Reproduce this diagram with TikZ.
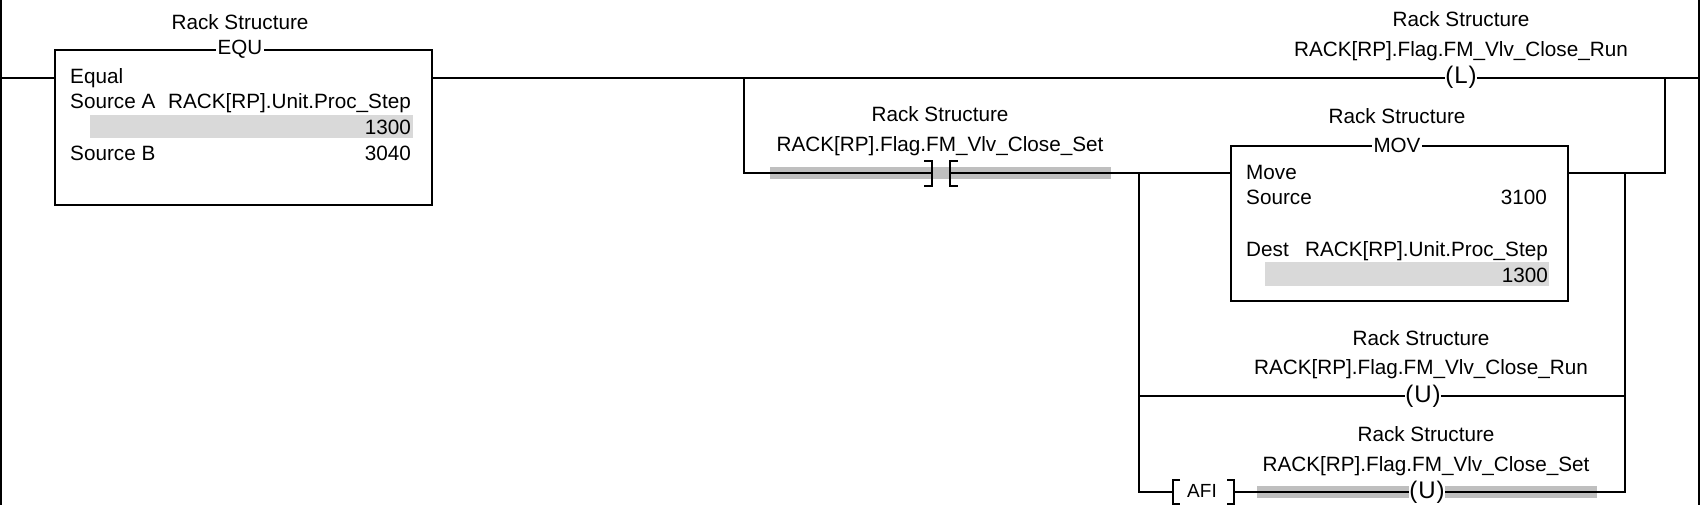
\documentclass[tikz,border=0pt]{standalone}
\usepackage{fontspec}
\setmainfont{Liberation Sans}
\usepackage{tikz}
\usetikzlibrary{positioning, calc}

\tikzset{
  wire/.style={line width=2pt, black, line cap=butt},
  instr/.style={draw, line width=2pt, fill=white, inner sep=0pt, anchor=north west},
  mnem/.style={fill=white, inner sep=1.5pt, font=\fontsize{20.6}{24}\selectfont},
  label/.style={inner sep=0pt, anchor=base, font=\fontsize{20.7}{24}\selectfont},
  lefttext/.style={label, anchor=base west},
  righttext/.style={label, anchor=base east},
  coil/.style={fill=white, inner sep=0pt, font=\fontsize{24}{24}\selectfont},
  valband/.style={fill=black!15, anchor=north west, inner sep=0pt},
  liveband/.style={fill=black!25, anchor=west, inner sep=0pt, minimum height=11pt},
}

\begin{document}
\begin{tikzpicture}[x=1pt, y=-1pt]
  \useasboundingbox (0,0) rectangle (1700,505);

  % rails
  \coordinate (railLtop) at (1,0);
  \coordinate (railLbot) at (1,505);
  \coordinate (railRtop) at (1699,0);
  \coordinate (railRbot) at (1699,505);
  \coordinate (rung) at (1,78);
  \coordinate (rungEnd) at (1699,78);
  \coordinate (branchTop) at (744,78);
  \coordinate (branchL) at (744,173);
  \coordinate (branchRtop) at (1665,78);
  \coordinate (branchR) at (1665,173);
  \coordinate (tieL) at (1139,173);
  \coordinate (tieR) at (1625,173);
  \coordinate (tieLm) at (1139,396);
  \coordinate (tieRm) at (1625,396);
  \coordinate (tieLb) at (1139,492);
  \coordinate (tieRb) at (1625,492);
  \coordinate (xicL) at (932,173);
  \coordinate (xicR) at (950,173);
  \coordinate (afiL) at (1173,492);
  \coordinate (afiR) at (1234,492);

  % highlighted bands go under the wires
  \node[liveband, minimum width=341pt, minimum height=12pt] (xicBand) at (770,173.5) {};
  \node[liveband, minimum width=340pt, minimum height=12pt] (ulatchBand) at (1257,492) {};

  % instruction boxes
  \node[instr, minimum width=377pt, minimum height=155pt] (equ) at (53.5,49) {};
  \node[instr, minimum width=337pt, minimum height=155pt] (mov) at (1229.5,145) {};
  \node[valband, minimum width=323pt, minimum height=23pt] (equBand) at (90,115) {};
  \node[valband, minimum width=284pt, minimum height=24pt] (movBand) at (1265,262) {};

  \node[mnem] (equName) at (240,49) {EQU};
  \node[mnem] (movName) at (1397,145) {MOV};

  % coils
  \node[coil] (latch) at (1461,77) {(\kern1pt L\kern1pt)};
  \node[coil] (ulatchRun) at (1423,396) {(\kern1pt U\kern1pt)};
  \node[coil] (ulatchSet) at (1427,492) {(\kern1pt U\kern1pt)};

  % wires
  \draw[wire] (railLtop) -- (railLbot);
  \draw[wire] (railRtop) -- (railRbot);
  \draw[wire] (rung) -- (rung -| equ.west);
  \draw[wire] (rung -| equ.east) -- (rung -| latch.west);
  \draw[wire] (rung -| latch.east) -- (rungEnd);
  \draw[wire] (branchTop) -- (branchL) -- (xicL);
  \draw[wire] (xicR) -- (tieL) -- (branchR -| mov.west);
  \draw[wire] (branchR -| mov.east) -- (branchR) -- (branchRtop);
  \draw[wire] (tieL) -- (tieLb) -- (afiL);
  \draw[wire] (tieR) -- (tieRb) -- (ulatchSet.east);
  \draw[wire] (tieLm) -- (ulatchRun.west);
  \draw[wire] (ulatchRun.east) -- (tieRm);
  \draw[wire] (afiR) -- (ulatchSet.west);

  % contact and AFI brackets
  \draw[wire] ($(xicL)+(-8,-12)$) -- ++(8,0) -- ++(0,25) -- ++(-8,0);
  \draw[wire] ($(xicR)+(8,-12)$) -- ++(-8,0) -- ++(0,25) -- ++(8,0);
  \draw[wire] ($(afiL)+(7,-12)$) -- ++(-7,0) -- ++(0,24) -- ++(7,0);
  \draw[wire] ($(afiR)+(-7,-12)$) -- ++(7,0) -- ++(0,24) -- ++(-7,0);

  % EQU text
  \node[label] (equTitle) at (240,29.5) {Rack Structure};
  \node[lefttext] (equDesc) at (70,83.5) {Equal};
  \node[lefttext] (equA) at (70,109) {Source A};
  \node[righttext] (equAtag) at (411,109) {RACK[RP].Unit.Proc\_Step};
  \node[righttext] (equAval) at (411,135) {1300};
  \node[lefttext] (equB) at (70,160.5) {Source B};
  \node[righttext] (equBval) at (411,160.5) {3040};

  % contact text
  \node[label] (xicTitle) at (940,122) {Rack Structure};
  \node[label] (xicTag) at (940,152) {RACK[RP].Flag.FM\_Vlv\_Close\_Set};

  % latch text
  \node[label] (latchTitle) at (1461,27) {Rack Structure};
  \node[label] (latchTag) at (1461,57) {RACK[RP].Flag.FM\_Vlv\_Close\_Run};

  % MOV text
  \node[label] (movTitle) at (1397,124) {Rack Structure};
  \node[lefttext] (movDesc) at (1246,179.5) {Move};
  \node[lefttext] (movSrc) at (1246,204.5) {Source};
  \node[righttext] (movSrcVal) at (1547,204.5) {3100};
  \node[lefttext] (movDest) at (1246,256) {Dest};
  \node[righttext] (movDestTag) at (1548,256) {RACK[RP].Unit.Proc\_Step};
  \node[righttext] (movDestVal) at (1548,282) {1300};

  % unlatch text
  \node[label] (runTitle) at (1421,345) {Rack Structure};
  \node[label] (runTag) at (1421,374) {RACK[RP].Flag.FM\_Vlv\_Close\_Run};
  \node[label] (setTitle) at (1426,441) {Rack Structure};
  \node[label] (setTag) at (1426,471) {RACK[RP].Flag.FM\_Vlv\_Close\_Set};
  \node[label, font=\fontsize{19}{24}\selectfont] (afiName) at (1202,497) {AFI};
\end{tikzpicture}
\end{document}
